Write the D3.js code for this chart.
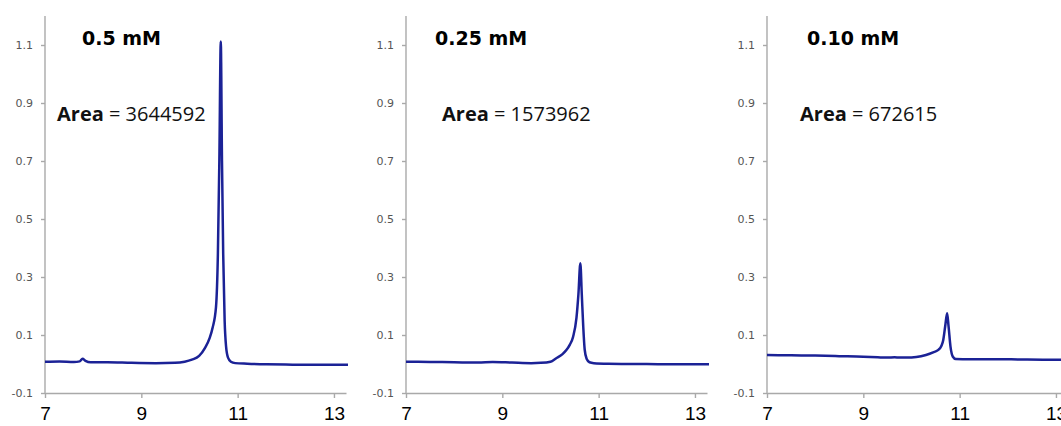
<!DOCTYPE html>
<html>
<head>
<meta charset="utf-8">
<script src="https://cdn.jsdelivr.net/npm/d3@7"></script>
<style>
  html, body { margin: 0; padding: 0; background: #fff; }
  svg { display: block; }
</style>
</head>
<body>
<svg id="chart" width="1061" height="426"></svg>
<script>
// Chromatograms of three standard concentrations (retention time in min vs. absorbance)
const concentrations = ["0.5 mM", "0.25 mM", "0.10 mM"];
const peakAreas = [3644592, 1573962, 672615];

const xTicks = [7, 9, 11, 13];
const yTicks = [-0.1, 0.1, 0.3, 0.5, 0.7, 0.9, 1.1];

// 0.5 mM trace
const time1 = [7.0, 7.3, 7.6, 7.72, 7.78, 7.84, 7.95, 8.3, 8.8, 9.3, 9.7, 9.9, 10.05, 10.2, 10.32,
  10.42, 10.48, 10.55, 10.59, 10.62, 10.65, 10.675, 10.70, 10.73, 10.76, 10.80, 10.86, 10.95,
  11.2, 11.6, 12.0, 12.5, 13.0, 13.3];
const signal1 = [0.008, 0.009, 0.007, 0.009, 0.018, 0.011, 0.006, 0.006, 0.004, 0.003, 0.004, 0.008,
  0.015, 0.028, 0.055, 0.09, 0.125, 0.195, 0.38, 0.70, 1.112, 0.70, 0.38, 0.15, 0.06, 0.022, 0.008,
  0.003, 0.001, -0.001, -0.002, -0.003, -0.003, -0.003];

// 0.25 mM trace
const time2 = [7.0, 7.5, 8.0, 8.5, 8.8, 9.2, 9.6, 9.8, 10.0, 10.12, 10.25, 10.33, 10.4, 10.47,
  10.54, 10.58, 10.62, 10.65, 10.68, 10.71, 10.75, 10.81, 10.9, 11.2, 11.8, 12.4, 13.0, 13.3];
const signal2 = [0.008, 0.007, 0.006, 0.005, 0.007, 0.005, 0.003, 0.004, 0.008, 0.02, 0.034, 0.048,
  0.066, 0.094, 0.16, 0.24, 0.347, 0.24, 0.13, 0.05, 0.018, 0.006, 0.003, 0.001, 0.0, -0.001,
  -0.001, -0.001];

// 0.10 mM trace
const time3 = [7.0, 7.5, 8.0, 8.5, 9.0, 9.3, 9.5, 9.65, 9.75, 9.9, 10.1, 10.3, 10.45, 10.55, 10.62,
  10.66, 10.7, 10.74, 10.77, 10.81, 10.86, 10.92, 11.2, 12.0, 12.8, 13.3];
const signal3 = [0.031, 0.030, 0.029, 0.027, 0.025, 0.023, 0.022, 0.023, 0.022, 0.022, 0.024, 0.031,
  0.04, 0.048, 0.062, 0.083, 0.13, 0.175, 0.13, 0.06, 0.025, 0.017, 0.016, 0.016, 0.015, 0.015];

const traces = [
  { t: time1, v: signal1 },
  { t: time2, v: signal2 },
  { t: time3, v: signal3 }
];

// Layout
const panelStep = 361;
const axisLeft = 45;
const plotWidth = 301;
const plotTop = 16, plotBottom = 393;
const titleOffset = [37, 29, 40];
const areaOffset = [12, 36, 33];
const lineColor = "#1b2296";
const axisColor = "#a9a9a9";

const svg = d3.select("#chart");

const y = d3.scaleLinear().domain([-0.1, 1.2]).range([plotBottom, plotTop]);

traces.forEach((tr, i) => {
  const x0 = axisLeft + i * panelStep;
  const x = d3.scaleLinear().domain([7, 13.25]).range([x0, x0 + plotWidth]);
  const g = svg.append("g");

  const clipId = "clip" + i;
  svg.append("clipPath").attr("id", clipId)
    .append("rect").attr("x", x0).attr("y", 0).attr("width", plotWidth + 2).attr("height", plotBottom);

  // y axis
  const yAxis = g.append("g")
    .attr("transform", `translate(${x0},0)`)
    .call(d3.axisLeft(y).tickValues(yTicks).tickSize(4).tickPadding(8)
      .tickFormat(d => d3.format(".1f")(d).replace("−", "-")));
  yAxis.select(".domain").attr("d", `M0,${plotTop}V${plotBottom}`);
  yAxis.selectAll("path, line").attr("stroke", axisColor).attr("stroke-width", 1.4);
  yAxis.selectAll("text")
    .attr("font-family", "DejaVu Sans, Verdana, sans-serif")
    .attr("font-size", 11)
    .attr("fill", "#555");

  // x axis
  const xAxis = g.append("g")
    .attr("transform", `translate(0,${plotBottom})`)
    .call(d3.axisBottom(x).tickValues(xTicks).tickSize(5).tickSizeOuter(0).tickPadding(9)
      .tickFormat(d3.format("d")));
  xAxis.selectAll("path, line").attr("stroke", axisColor).attr("stroke-width", 1.4);
  xAxis.selectAll("text")
    .attr("font-family", "Liberation Sans, Arial, sans-serif")
    .attr("font-size", 19)
    .attr("fill", "#000");

  // trace
  const pts = tr.t.map((t, k) => [t, tr.v[k]]);
  g.append("path")
    .datum(pts)
    .attr("clip-path", `url(#${clipId})`)
    .attr("fill", "none")
    .attr("stroke", lineColor)
    .attr("stroke-width", 2.5)
    .attr("stroke-linejoin", "round")
    .attr("d", d3.line().x(d => x(d[0])).y(d => y(d[1])).curve(d3.curveMonotoneX));

  // concentration label
  g.append("text")
    .attr("x", x0 + titleOffset[i])
    .attr("y", 45)
    .attr("font-family", "DejaVu Sans, Verdana, sans-serif")
    .attr("font-weight", "bold")
    .attr("font-size", 19)
    .attr("fill", "#000")
    .text(concentrations[i]);

  // peak area label
  const area = g.append("text")
    .attr("x", x0 + areaOffset[i])
    .attr("y", 121)
    .attr("font-family", "Open Sans, sans-serif")
    .attr("font-size", 20)
    .attr("fill", "#111");
  area.append("tspan").attr("font-weight", "bold").text("Area");
  area.append("tspan").text(" = " + peakAreas[i]);
});
</script>
</body>
</html>
